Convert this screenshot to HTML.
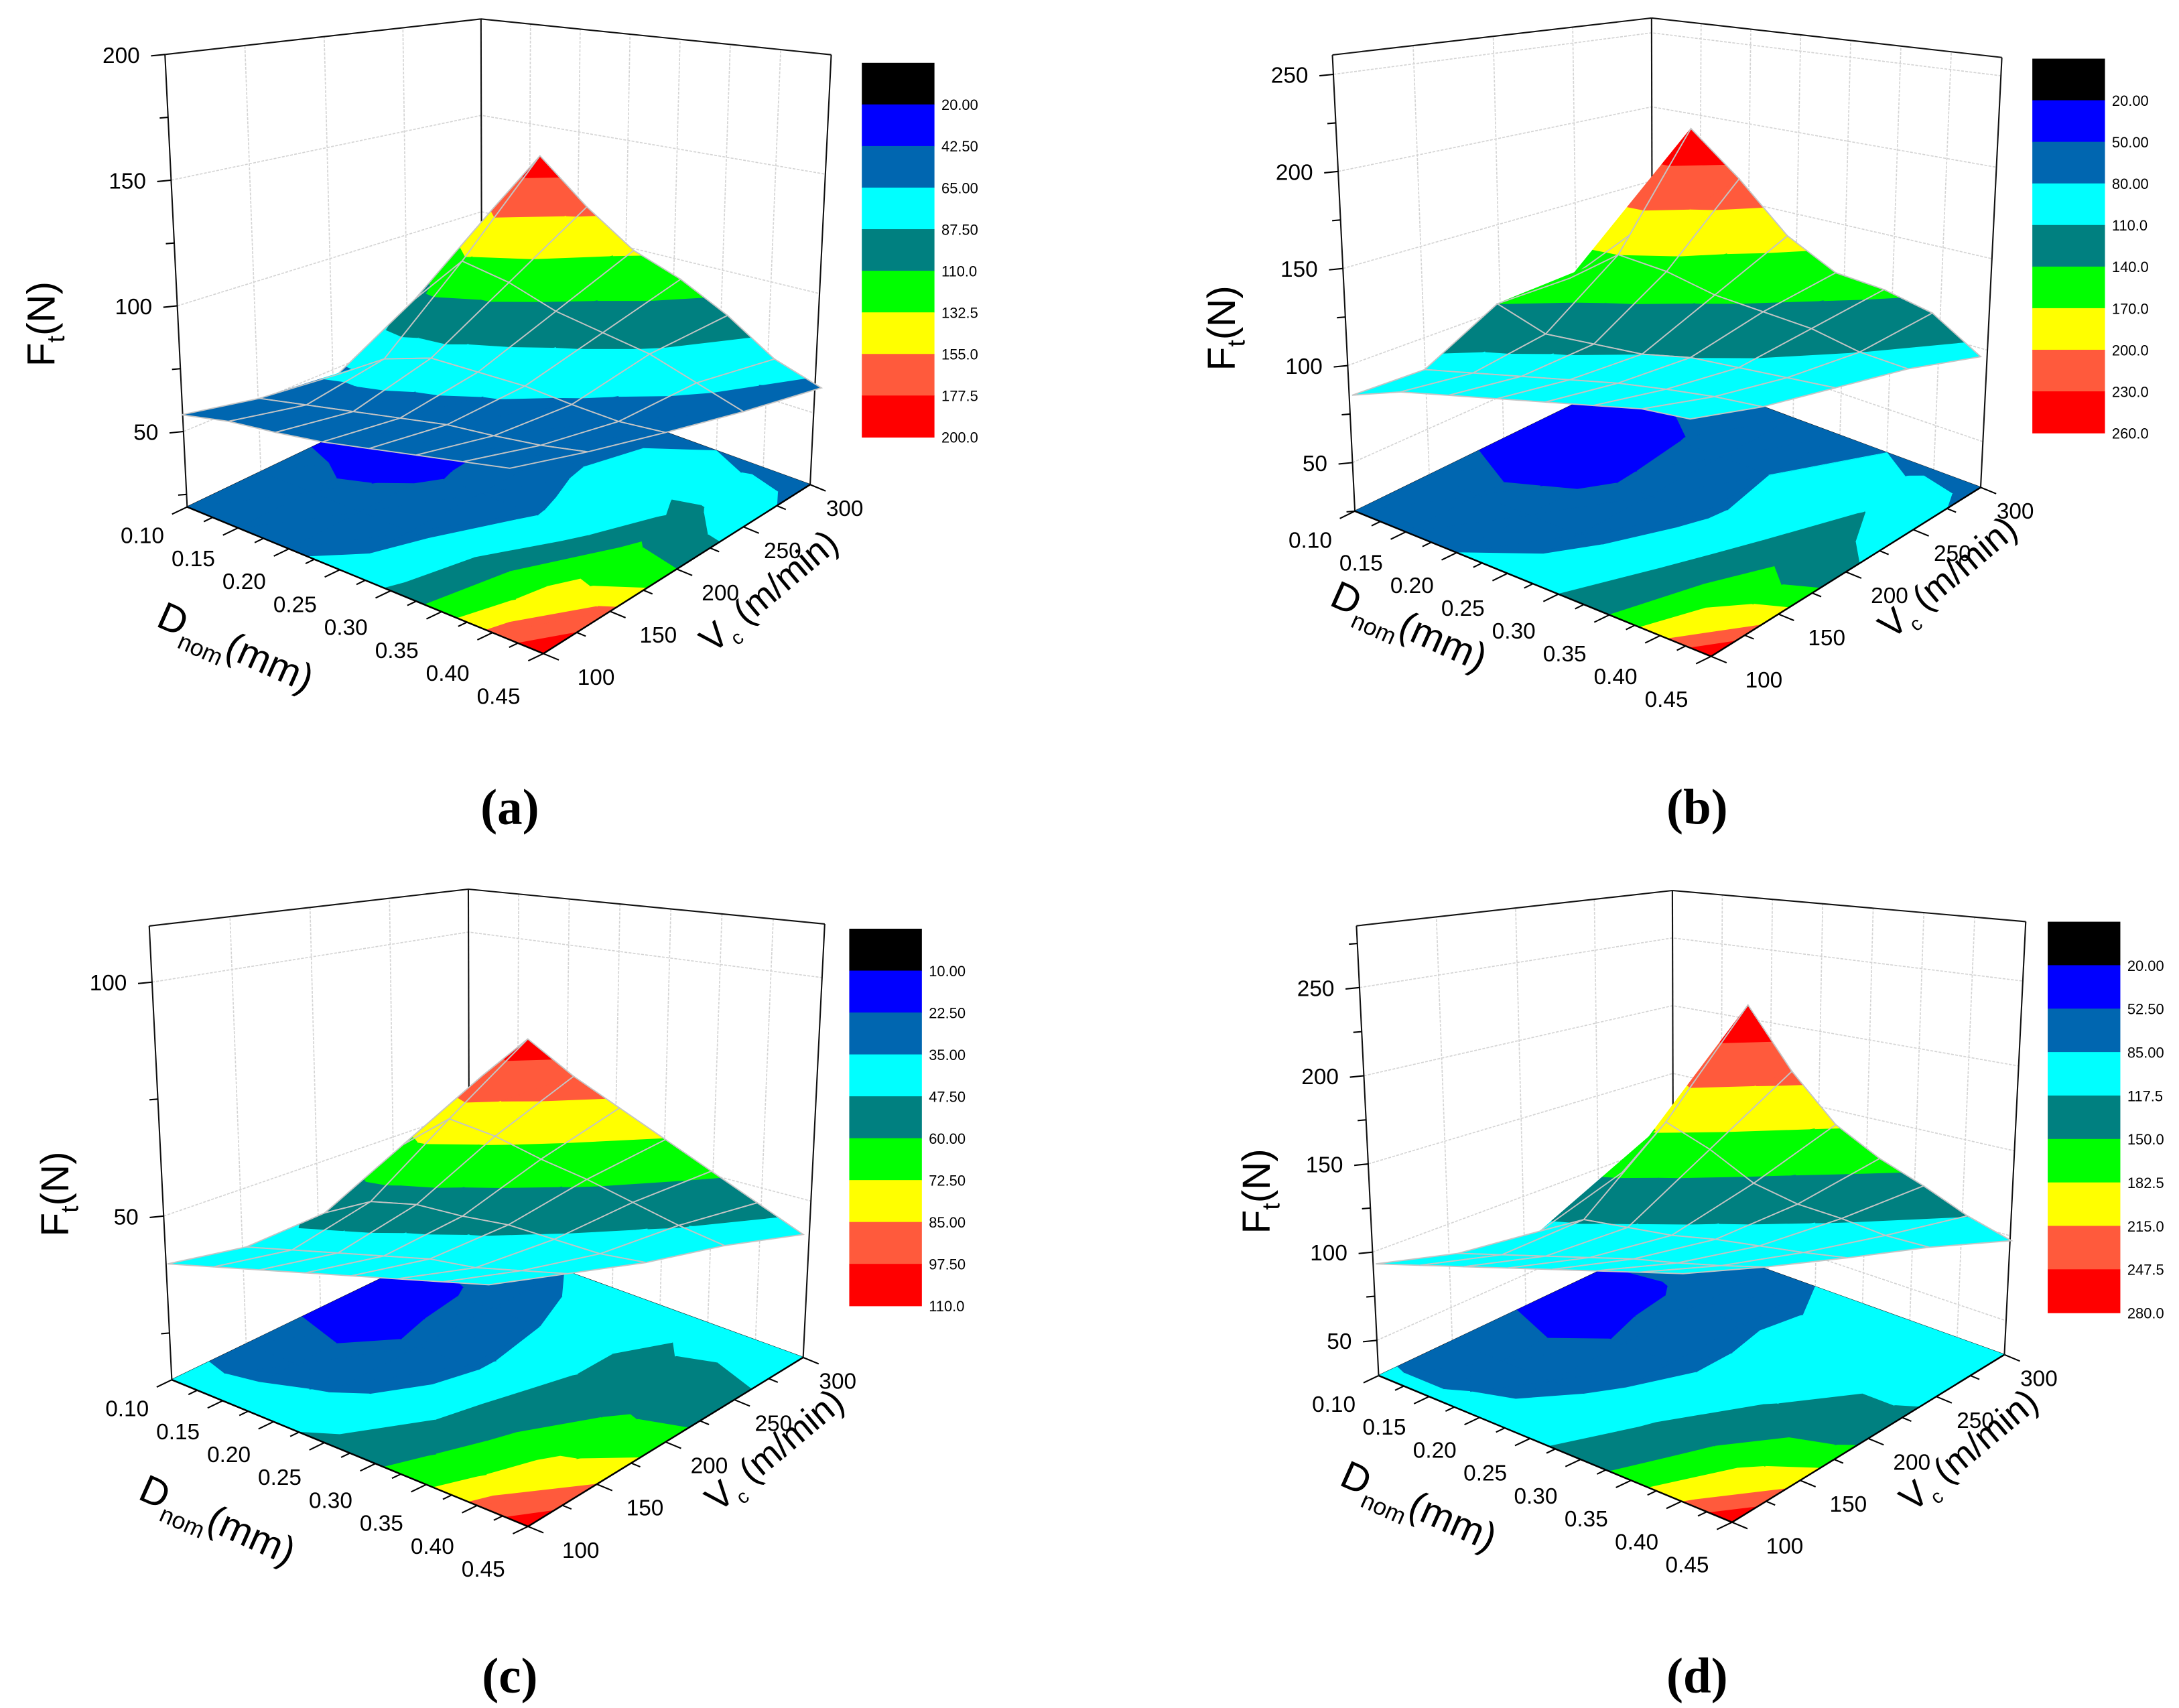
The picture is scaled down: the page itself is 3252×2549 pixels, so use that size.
<!DOCTYPE html>
<html><head><meta charset="utf-8"><title>Ft surfaces</title>
<style>html,body{margin:0;padding:0;background:#fff}svg{display:block}</style></head>
<body>
<svg id="fig" xmlns="http://www.w3.org/2000/svg" width="3252" height="2549" viewBox="0 0 1560 1223" preserveAspectRatio="none" font-family="'Liberation Sans', sans-serif">
<rect x="0" y="0" width="1560" height="1223" fill="#fff"/>
</svg>
<script>
// ---- data ----
const dValues = [0.10, 0.15, 0.20, 0.25, 0.30, 0.35, 0.40, 0.45];
const vValues = [100, 150, 200, 250, 300];
// surface values (rows: D index, cols: Vc index)
const surfA = [
 [55, 55, 60, 100, 150],
 [55, 55, 75, 130, 190],
 [52, 55, 80, 120, 160],
 [50, 55, 75, 105, 135],
 [50, 55, 70, 95, 120],
 [50, 52, 62, 85, 100],
 [50, 50, 55, 70, 75],
 [50, 50, 52, 55, 60]];
const surfB = [
 [90, 100, 140, 150, 180],
 [95, 100, 120, 170, 255],
 [95, 100, 115, 160, 220],
 [95, 100, 110, 145, 180],
 [95, 100, 110, 135, 155],
 [95, 98, 105, 125, 145],
 [95, 95, 100, 110, 130],
 [90, 90, 95, 100, 100]];
const surfC = [
 [40, 42, 50, 70, 90],
 [40, 42, 55, 80, 104],
 [40, 42, 55, 75, 92],
 [40, 42, 52, 68, 82],
 [40, 42, 50, 62, 72],
 [40, 40, 46, 55, 62],
 [40, 40, 42, 48, 52],
 [40, 40, 40, 42, 42]];
const surfD = [
 [95, 98, 110, 150, 210],
 [95, 98, 120, 190, 275],
 [95, 98, 115, 170, 225],
 [95, 98, 110, 145, 185],
 [95, 98, 108, 130, 160],
 [95, 96, 104, 120, 140],
 [95, 95, 100, 108, 118],
 [95, 95, 97, 100, 100]];
// floor contour values
const floorA = [
 [55, 48, 40, 40, 50],
 [58, 45, 38, 40, 50],
 [62, 50, 40, 42, 52],
 [70, 58, 50, 55, 58],
 [90, 78, 62, 70, 62],
 [120, 110, 80, 85, 65],
 [160, 140, 115, 90, 60],
 [195, 160, 110, 75, 55]];
const floorB = [
 [75, 60, 45, 45, 60],
 [75, 55, 40, 42, 60],
 [80, 60, 45, 48, 62],
 [90, 70, 60, 62, 68],
 [110, 90, 75, 80, 75],
 [140, 120, 100, 95, 80],
 [190, 160, 130, 110, 75],
 [258, 180, 115, 90, 70]];
const floorC = [
 [40, 30, 20, 22, 30],
 [42, 28, 18, 20, 32],
 [45, 32, 25, 28, 35],
 [50, 38, 32, 35, 40],
 [58, 50, 45, 45, 45],
 [70, 62, 55, 50, 45],
 [88, 75, 62, 52, 42],
 [105, 85, 65, 50, 40]];
const floorD = [
 [90, 70, 50, 50, 70],
 [90, 65, 45, 48, 70],
 [95, 75, 55, 60, 75],
 [110, 90, 75, 80, 85],
 [130, 115, 95, 95, 90],
 [165, 140, 115, 105, 90],
 [215, 175, 130, 110, 88],
 [275, 200, 140, 110, 85]];
const levelsA = [20, 42.5, 65, 87.5, 110, 132.5, 155, 177.5, 200];
const levelsB = [20, 50, 80, 110, 140, 170, 200, 230, 260];
const levelsC = [10, 22.5, 35, 47.5, 60, 72.5, 85, 97.5, 110];
const levelsD = [20, 52.5, 85, 117.5, 150, 182.5, 215, 247.5, 280];
const zTicksA = [50, 100, 150, 200];
const zTicksB = [50, 100, 150, 200, 250];
const zTicksC = [50, 100];
const zTicksD = [50, 100, 150, 200, 250];
const dTickLabels = ['0.10','0.15','0.20','0.25','0.30','0.35','0.40','0.45'];
const vTickLabels = ['100','150','200','250','300'];

const COLORS = ['#000000','#0000ff','#0066b0','#00ffff','#008080','#00ff00','#ffff00','#ff5a3c','#ff0000'];
const NS = 'http://www.w3.org/2000/svg';
const svg = document.getElementById('fig');

const panels = [
 {id:'a', surf:surfA, floor:floorA, levels:levelsA, zt:zTicksA,
  g:{L:[134,363],F:[389,468],R:[580,347],B:[345,262],kL:1.8,kF:2.05,kR:1.71,kB:1.38,zf:20,zmax:200},
  s:{L:[130,297],F:[365,330],R:[588,283],B:[353,250],k:1.06,z0:55},
  leg:{x:617,y:45,w:52,h:268}, title:[365,578], ft:[30,232], dt:[165,472], vt:[556,430]},
 {id:'b', surf:surfB, floor:floorB, levels:levelsB, zt:zTicksB,
  g:{L:[970,366],F:[1225,470],R:[1418,349],B:[1183,262],kL:1.39,kF:1.65,kR:1.31,kB:1.06,zf:25,zmax:260},
  s:{L:[968,283],F:[1210,300],R:[1418,265],B:[1176,248],k:0.96,z0:90},
  leg:{x:1455,y:42,w:52,h:268}, title:[1215,578], ft:[875,235], dt:[1005,457], vt:[1400,420]},
 {id:'c', surf:surfC, floor:floorC, levels:levelsC, zt:zTicksC,
  g:{L:[123,988],F:[378,1093],R:[575,972],B:[336,885],kL:3.35,kF:3.9,kR:3.2,kB:2.56,zf:15,zmax:112},
  s:{L:[120,905],F:[350,920],R:[575,888],B:[345,873],k:2.05,z0:40},
  leg:{x:608,y:665,w:52,h:270}, title:[365,1200], ft:[40,855], dt:[152,1097], vt:[560,1045]},
 {id:'d', surf:surfD, floor:floorD, levels:levelsD, zt:zTicksD,
  g:{L:[987,985],F:[1240,1090],R:[1435,970],B:[1198,885],kL:1.263,kF:1.5,kR:1.216,kB:0.97,zf:30,zmax:285},
  s:{L:[985,905],F:[1205,912],R:[1440,893],B:[1220,886],k:0.93,z0:95},
  leg:{x:1466,y:660,w:52,h:280}, title:[1215,1200], ft:[900,853], dt:[1012,1087], vt:[1415,1045]}
];

function mk(tag, attrs, parent){
  const e = document.createElementNS(NS, tag);
  for (const k in attrs) e.setAttribute(k, attrs[k]);
  (parent||svg).appendChild(e);
  return e;
}
function bil(a,b,c,d,u,v){ return (1-u)*(1-v)*a + u*(1-v)*b + u*v*c + (1-u)*v*d; }
function proj(g,u,v,z){
  const px = bil(g.L[0],g.F[0],g.R[0],g.B[0],u,v);
  const py = bil(g.L[1],g.F[1],g.R[1],g.B[1],u,v);
  const k = bil(g.kL,g.kF,g.kR,g.kB,u,v);
  const h = (z-g.zf)*k;
  const cx = (g.L[0]+g.R[0])/2;
  return [px + (px-cx)*h*2.2e-4, py - h];
}
function sproj(s,u,v,z){
  const px = bil(s.L[0],s.F[0],s.R[0],s.B[0],u,v);
  const py = bil(s.L[1],s.F[1],s.R[1],s.B[1],u,v);
  return [px, py - (z-s.z0)*s.k];
}
function uOf(d){ return (d-0.10)/0.35; }
function vOf(vc){ return (vc-100)/200; }
function pts(a){ return a.map(p=>p[0].toFixed(2)+','+p[1].toFixed(2)).join(' '); }

function clipPoly(poly, lo, keepAbove){
  const out=[];
  for (let i=0;i<poly.length;i++){
    const a=poly[i], b=poly[(i+1)%poly.length];
    const ina = keepAbove ? a[2]>=lo : a[2]<=lo;
    const inb = keepAbove ? b[2]>=lo : b[2]<=lo;
    if (ina) out.push(a);
    if (ina!==inb){
      const t=(lo-a[2])/(b[2]-a[2]);
      out.push([a[0]+(b[0]-a[0])*t, a[1]+(b[1]-a[1])*t, lo]);
    }
  }
  return out;
}
function bands(tri, levels){
  const res=[];
  const lvs=[-1e9].concat(levels.slice(0,8)).concat([1e9]);
  for (let b=0;b<lvs.length-1;b++){
    let p=clipPoly(tri,lvs[b],true);
    if (p.length<3) continue;
    p=clipPoly(p,lvs[b+1],false);
    if (p.length<3) continue;
    res.push([p, COLORS[Math.min(b,8)]]);
  }
  return res;
}
function triangles(data,i,j){
  const A=[i,j,data[i][j]], B=[i+1,j,data[i+1][j]], C=[i+1,j+1,data[i+1][j+1]], D=[i,j+1,data[i][j+1]];
  return [[A,B,C],[A,C,D]];
}

panels.forEach(P=>{
  const g = P.g;
  const grp = mk('g',{});
  
  
  const top = (u,v)=>proj(g,u,v,g.zmax);
  const bot = (u,v)=>proj(g,u,v,g.zf);
  const wl = mk('polygon',{points:pts([bot(0,0),bot(0,1),top(0,1),top(0,0)]),fill:'#fff'},grp);
  
  
  const wr = mk('polygon',{points:pts([bot(0,1),bot(1,1),top(1,1),top(0,1)]),fill:'#fff'},grp);
  
  
  P.zt.forEach(z=>{
    const l = mk('polyline',{points:pts([proj(g,0,0,z),proj(g,0,1,z),proj(g,1,1,z)]),fill:'none',stroke:'#d4d4d4','stroke-width':0.8,'stroke-dasharray':'2,1'},grp);
    
    
  });
  vValues.forEach(vc=>{
    const v=vOf(vc);
    const l = mk('line',{x1:bot(0,v)[0],y1:bot(0,v)[1],x2:top(0,v)[0],y2:top(0,v)[1],stroke:'#d4d4d4','stroke-width':0.8,'stroke-dasharray':'2,1'},grp);
    
    
  });
  dValues.forEach(d=>{
    const u=uOf(d);
    const l = mk('line',{x1:bot(u,1)[0],y1:bot(u,1)[1],x2:top(u,1)[0],y2:top(u,1)[1],stroke:'#d4d4d4','stroke-width':0.8,'stroke-dasharray':'2,1'},grp);
    
    
  });
  [[bot(0,0),top(0,0)],[bot(0,1),top(0,1)],[bot(1,1),top(1,1)],[top(0,0),top(0,1)],[top(0,1),top(1,1)],[bot(0,0),bot(0,1)],[bot(0,1),bot(1,1)]].forEach(s=>{
    const l = mk('line',{x1:s[0][0],y1:s[0][1],x2:s[1][0],y2:s[1][1],stroke:'#111','stroke-width':1},grp);
    
    
  });
  const fg = mk('g',{},grp);
  
  
  for (let i=0;i<7;i++) for (let j=0;j<4;j++){
    triangles(P.floor,i,j).forEach(tri=>{
      bands(tri,P.levels).forEach(([poly,c])=>{
        const pp = poly.map(q=>bot(q[0]/7,q[1]/4));
        const e = mk('polygon',{points:pts(pp),fill:c,stroke:c,'stroke-width':0.5},fg);
        
        
      });
    });
  }
  const sg = mk('g',{},grp);
  
  
  const cells=[];
  for (let i=0;i<7;i++) for (let j=0;j<4;j++) cells.push([i,j]);
  const far=(c)=>(1-(c[0]+.5)/7)+(c[1]+.5)/4;
  cells.sort((p,q)=>far(q)-far(p));
  const S=P.s, data=P.surf;
  const sp=(fi,fj,z)=>sproj(S,fi/7,fj/4,z);
  cells.forEach(([i,j])=>{
    const tris = triangles(data,i,j);
    [tris[1],tris[0]].forEach(tri=>{
      bands(tri,P.levels).forEach(([poly,c])=>{
        const e = mk('polygon',{points:pts(poly.map(q=>sp(q[0],q[1],q[2]))),fill:c,stroke:c,'stroke-width':0.5},sg);
        
        
      });
    });
    const ol=[sp(i,j,data[i][j]),sp(i+1,j,data[i+1][j]),sp(i+1,j+1,data[i+1][j+1]),sp(i,j+1,data[i][j+1])];
    const w = mk('polygon',{points:pts(ol),fill:'none',stroke:'#c4c4c4','stroke-width':0.9},sg);
    
    
  });
  [[bot(0,0),bot(1,0)],[bot(1,0),bot(1,1)]].forEach(s=>{
    const l = mk('line',{x1:s[0][0],y1:s[0][1],x2:s[1][0],y2:s[1][1],stroke:'#000','stroke-width':1.2},grp);
    
    
  });
  const Lp=bot(0,0), Bp=bot(0,1), Fp=bot(1,0);
  let dd=[Lp[0]-Bp[0],Lp[1]-Bp[1]]; let n1=Math.hypot(dd[0],dd[1]); dd=[dd[0]/n1,dd[1]/n1];
  let vd=[Fp[0]-Lp[0],Fp[1]-Lp[1]]; let n2=Math.hypot(vd[0],vd[1]); vd=[vd[0]/n2,vd[1]/n2];
  for (let q=0;q<=14;q++){
    const p=bot(q/14,0), len=(q%2==0)?12:7;
    const l = mk('line',{x1:p[0],y1:p[1],x2:p[0]+dd[0]*len,y2:p[1]+dd[1]*len,stroke:'#000','stroke-width':1},grp);
    
    
  }
  for (let q=0;q<=8;q++){
    const p=bot(1,q/8), len=(q%2==0)?12:7;
    const l = mk('line',{x1:p[0],y1:p[1],x2:p[0]+vd[0]*len,y2:p[1]+vd[1]*len,stroke:'#000','stroke-width':1},grp);
    
    
  }
  dTickLabels.forEach((t,k)=>{
    const u=uOf(dValues[k]), p=bot(u,0);
    const e = mk('text',{x:p[0]+dd[0]*30-5,y:p[1]+dd[1]*30+13+u*10,'font-size':16,'text-anchor':'middle'},grp);
    e.textContent=t;
    
    
  });
  vTickLabels.forEach((t,k)=>{
    const v=vOf(vValues[k]), p=bot(1,v);
    const e = mk('text',{x:p[0]+vd[0]*30+10-13*v,y:p[1]+vd[1]*30+11,'font-size':16,'text-anchor':'middle'},grp);
    e.textContent=t;
    
    
  });
  const zstep = P.zt[1]-P.zt[0];
  for (let z=P.zt[0]-zstep/2; z<=g.zmax; z+=zstep/2){
    if (z<g.zf) continue;
    const p=proj(g,0,0,z), major = P.zt.indexOf(z)>=0;
    const l = mk('line',{x1:p[0],y1:p[1],x2:p[0]-(major?10:6),y2:p[1]+(major?1:0.5),stroke:'#000','stroke-width':1},grp);
    
    
  }
  P.zt.forEach(z=>{
    const p=proj(g,0,0,z);
    const e = mk('text',{x:p[0]-18,y:p[1]+6,'font-size':16,'text-anchor':'end'},grp);
    e.textContent=String(z);
    
    
  });
  const ft = mk('text',{x:0,y:0,'font-size':28,'text-anchor':'middle',transform:`translate(${P.ft[0]+9},${P.ft[1]}) rotate(-90)`},grp);
  
  
  ft.innerHTML='F<tspan font-size="18" dy="7">t</tspan><tspan dy="-7">(N)</tspan>';
  const dt = mk('text',{x:0,y:0,'font-size':28,'text-anchor':'middle',transform:`translate(${P.dt[0]},${P.dt[1]}) rotate(24)`},grp);
  
  
  dt.innerHTML='D<tspan font-size="17" dy="8">nom</tspan><tspan dy="-8">(mm)</tspan>';
  const vt = mk('text',{x:0,y:0,'font-size':26,'text-anchor':'middle',transform:`translate(${P.vt[0]},${P.vt[1]}) rotate(-40)`},grp);
  
  
  vt.innerHTML='V<tspan font-size="14" dy="7">c</tspan><tspan dy="-7"> (m/min)</tspan>';
  const lg = mk('g',{},grp);
  
  
  const bh = P.leg.h/9;
  COLORS.forEach((c,k)=>{
    const r = mk('rect',{x:P.leg.x,y:P.leg.y+k*bh,width:P.leg.w,height:bh+0.3,fill:c},lg);
    
    
  });
  P.levels.forEach((lv,k)=>{
    const e = mk('text',{x:P.leg.x+P.leg.w+5,y:P.leg.y+(k+1)*bh+4,'font-size':10.5},lg);
    e.textContent=Number(lv).toPrecision(4);
    
    
  });
  const pl = mk('text',{x:P.title[0],y:P.title[1]+12,'font-size':36,'font-weight':'bold','text-anchor':'middle','font-family':"'Liberation Serif', serif"},grp);
  pl.textContent='('+P.id+')';
  
  
});
</script>
</body></html>
